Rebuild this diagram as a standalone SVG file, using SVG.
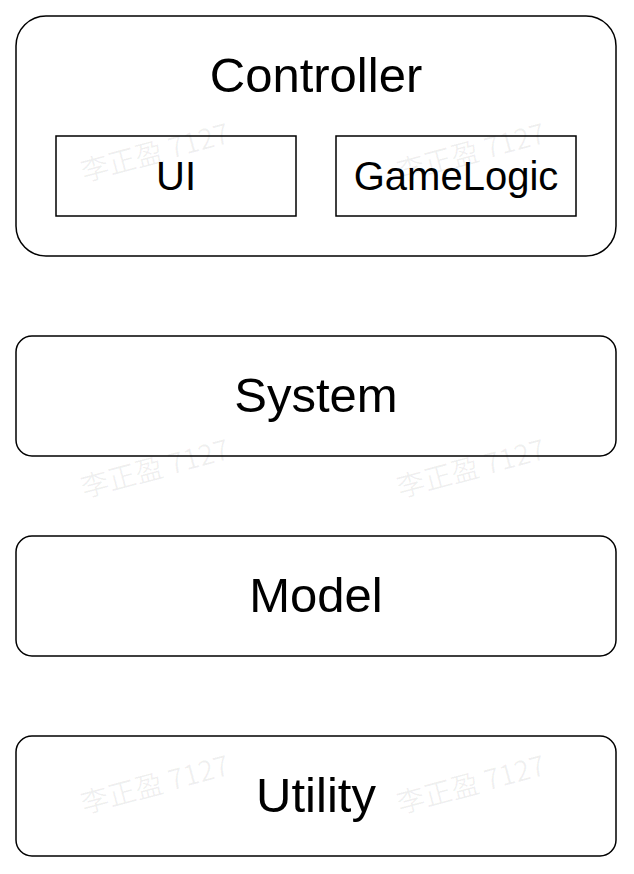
<svg xmlns="http://www.w3.org/2000/svg" width="634" height="874" viewBox="0 0 634 874">
<style>
.box{fill:#fff;stroke:#000;stroke-width:1.5}
.t{font-family:"Liberation Sans",Arial,sans-serif;fill:#000;text-anchor:middle}
.big{font-size:49px}
.small{font-size:40px}
.wm{font-family:"Noto Sans CJK SC","Liberation Sans",sans-serif;font-size:28px;fill:#000;fill-opacity:0.06}
</style>
<rect width="634" height="874" fill="#fff"/>
<g id="controller">
<rect class="box" x="16" y="16" width="600" height="240" rx="30"/>
<text class="t big" x="316" y="92">Controller</text>
</g>
<g id="ui">
<rect class="box" x="56" y="136" width="240" height="80"/>
<text class="t small" x="176" y="190">UI</text>
</g>
<g id="gamelogic">
<rect class="box" x="336" y="136" width="240" height="80"/>
<text class="t small" x="456" y="190">GameLogic</text>
</g>
<g id="system">
<rect class="box" x="16" y="336" width="600" height="120" rx="16"/>
<text class="t big" x="316" y="412">System</text>
</g>
<g id="model">
<rect class="box" x="16" y="536" width="600" height="120" rx="16"/>
<text class="t big" x="316" y="612">Model</text>
</g>
<g id="utility">
<rect class="box" x="16" y="736" width="600" height="120" rx="16"/>
<text class="t big" x="316" y="812">Utility</text>
</g>
<g id="connectors"/>
<g id="watermarks">
<text class="wm" transform="translate(84,182) rotate(-15)">李正盈 7127</text>
<text class="wm" transform="translate(400,182) rotate(-15)">李正盈 7127</text>
<text class="wm" transform="translate(84,498) rotate(-15)">李正盈 7127</text>
<text class="wm" transform="translate(400,498) rotate(-15)">李正盈 7127</text>
<text class="wm" transform="translate(84,814) rotate(-15)">李正盈 7127</text>
<text class="wm" transform="translate(400,814) rotate(-15)">李正盈 7127</text>
</g>
</svg>
